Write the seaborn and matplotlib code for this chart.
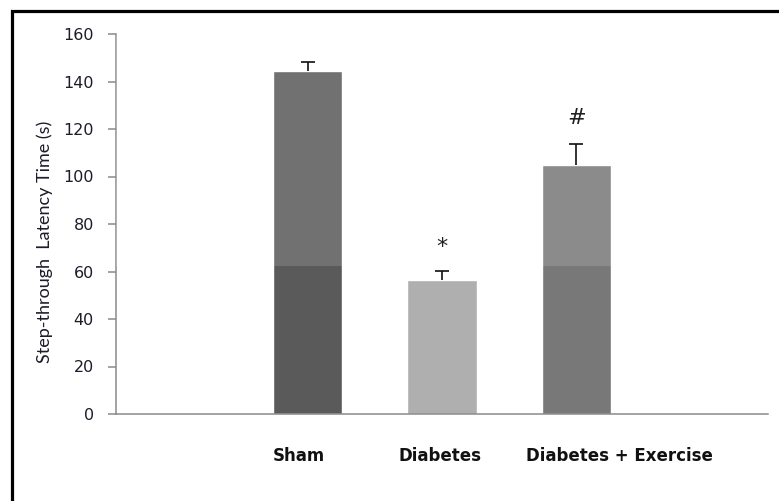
import matplotlib
matplotlib.use("Agg")
import matplotlib.pyplot as plt
import matplotlib.transforms as mtransforms
from matplotlib.lines import Line2D
import seaborn as sns
import pandas as pd

# Step-through latency per group (mean and SEM, seconds)
groups = ["Sham", "Diabetes", "Diabetes + Exercise"]
latency = [144.5, 56.5, 105.0]
sem = [3.7, 3.8, 8.5]
marks = ["", "*", "#"]
bar_colors = ["#5a5a5a", "#afafaf", "#787878"]

# empty slots either side of the groups
order = [""] + groups + [" "]

sns.set_theme(style="white")
plt.rcParams["font.family"] = ["Lato", "DejaVu Sans"]

df = pd.DataFrame({"group": groups, "latency": latency})

fig = plt.figure(figsize=(7.79, 5.01), dpi=100)
ax = fig.add_axes([116 / 779, 1 - 414 / 501, 652 / 779, 380 / 501])

sns.barplot(data=df, x="group", y="latency", order=order, hue="group",
            palette=dict(zip(groups, bar_colors)), legend=False,
            width=0.515, errorbar=None, saturation=1, ax=ax, zorder=2)

# lighter band over the upper part of the plot
ax.axhspan(62.3, 160, color="white", alpha=0.14, lw=0, zorder=3)

centers = {}
for p in ax.patches:
    if p.get_height() > 0:
        centers[round(p.get_height(), 3)] = p.get_x() + p.get_width() / 2
xs = [centers[round(v, 3)] for v in latency]

# plus-only error bars
_, caps, _ = ax.errorbar(xs, latency, yerr=[[0] * 3, sem], fmt="none",
                         ecolor="#111111", elinewidth=1.2, capsize=5,
                         capthick=1.2, zorder=4)
caps[0].set_visible(False)

mark_y = [None, 70.5, 124.5]
for x, m, y in zip(xs, marks, mark_y):
    if m:
        ax.text(x, y, m, ha="center", va="center", fontsize=16,
                color="#222222", family="DejaVu Sans", zorder=5)

ax.set_xlim(-0.43, 4.43)
ax.set_ylim(0, 160)
ax.set_yticks(range(0, 161, 20))
ax.set_xticks(range(len(order)))
ax.set_xticklabels(order)

for s in ["top", "right"]:
    ax.spines[s].set_visible(False)
for s in ["left", "bottom"]:
    ax.spines[s].set_color("#8a8a8a")
    ax.spines[s].set_linewidth(1.1)

ax.tick_params(axis="y", left=True, length=6, width=1.1, color="#8a8a8a",
               pad=10, labelsize=11.5, labelcolor="#1c1c2a")
ax.tick_params(axis="x", bottom=False, length=0, pad=24, labelsize=12,
               labelcolor="#111111")
for t in ax.get_yticklabels():
    t.set_family("DejaVu Sans")

# category labels sit slightly off their slot centres (pixels at 100 dpi)
label_shift = [0, -9, -2, 43, 0]
for t, dx in zip(ax.get_xticklabels(), label_shift):
    t.set_family("DejaVu Sans")
    t.set_fontweight("bold")
    t.set_transform(t.get_transform() +
                    mtransforms.ScaledTranslation(dx / 100, 0, fig.dpi_scale_trans))

ax.set_xlabel("")
ax.set_ylabel("Step-through  Latency Time (s)", fontsize=13, color="#1c1c2a")
ax.yaxis.set_label_coords(-0.097, 0.452)

# outer frame along the left and top edges
fig.add_artist(Line2D([12 / 779, 12 / 779, 1.0], [0.0, 1 - 11 / 501, 1 - 11 / 501],
                      transform=fig.transFigure, color="#000000", lw=2.3,
                      solid_joinstyle="miter"))

fig.savefig("out.png", dpi=100)
